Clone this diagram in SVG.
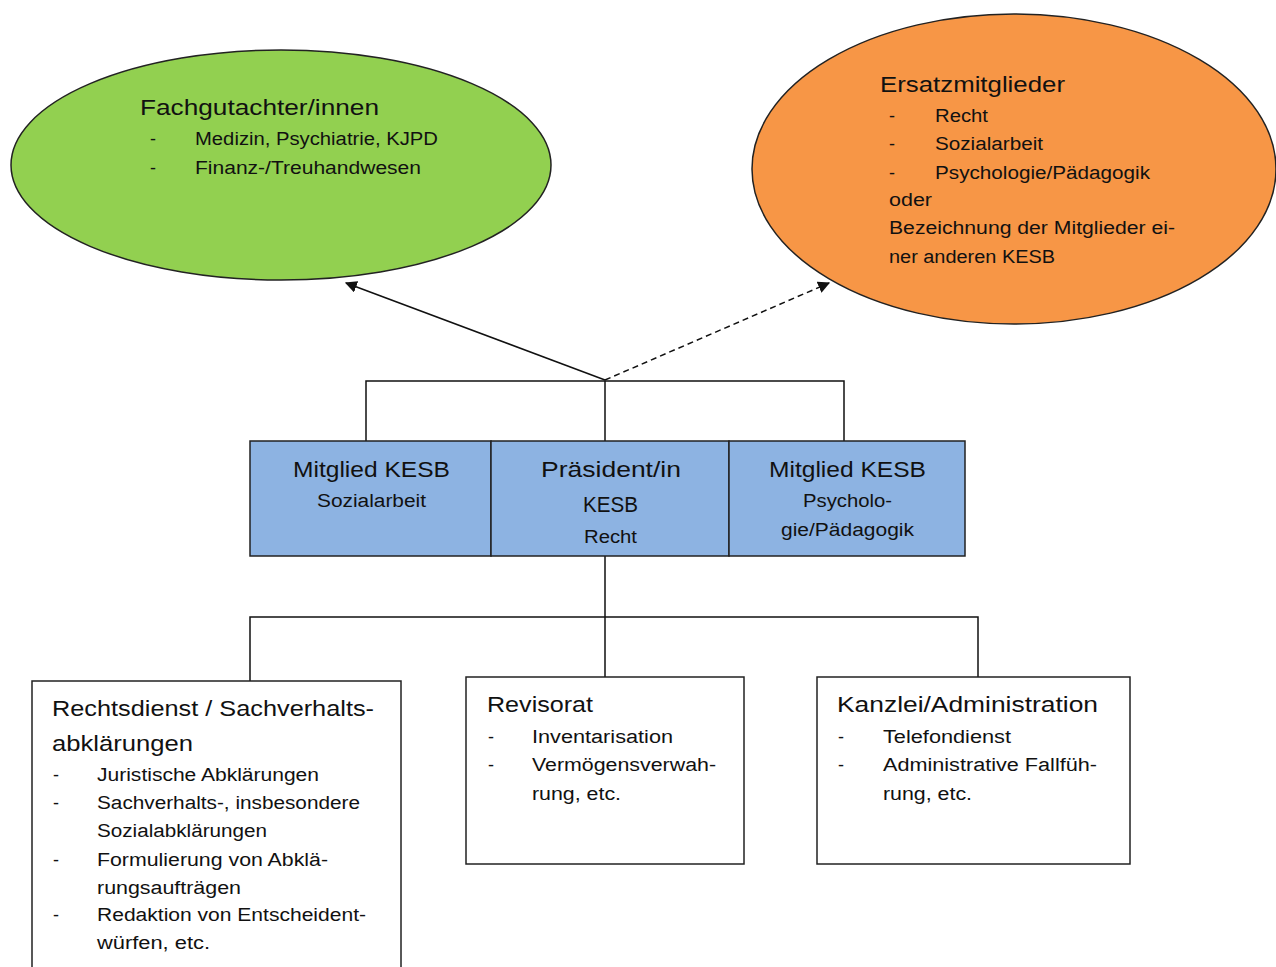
<svg xmlns="http://www.w3.org/2000/svg" width="1276" height="967" viewBox="0 0 1276 967">
<style>
text{font-family:"Liberation Sans",Arial,sans-serif;fill:#111}
.h{font-size:22px}
.b{font-size:18px}
.box{stroke:#222;stroke-width:1.5}
.ln{stroke:#111;stroke-width:1.5;fill:none}
</style>
<defs>
<marker id="ah" viewBox="0 0 10 10" refX="9" refY="5" markerWidth="12" markerHeight="12" markerUnits="userSpaceOnUse" orient="auto">
<path d="M0,0 L10,5 L0,10 z" fill="#111"/>
</marker>
</defs>
<rect width="1276" height="967" fill="#fff"/>

<g id="connectors">
<line class="ln" x1="605" y1="380" x2="346" y2="283" marker-end="url(#ah)"/>
<line class="ln" x1="605" y1="380" x2="829" y2="283" stroke-dasharray="6,4" marker-end="url(#ah)"/>
<path class="ln" d="M366,441 V381 H844 V441 M605,381 V441"/>
<path class="ln" d="M605,556 V677 M250,681 V617 H978 V677"/>
</g>

<g id="fachgutachter">
<ellipse cx="281" cy="165" rx="270" ry="115" fill="#92D050" class="box"/>
<text class="h" x="140" y="115" textLength="239" lengthAdjust="spacingAndGlyphs">Fachgutachter/innen</text>
<text class="b" x="150" y="145">-</text>
<text class="b" x="195" y="145" textLength="243" lengthAdjust="spacingAndGlyphs">Medizin, Psychiatrie, KJPD</text>
<text class="b" x="150" y="174">-</text>
<text class="b" x="195" y="174" textLength="226" lengthAdjust="spacingAndGlyphs">Finanz-/Treuhandwesen</text>
</g>

<g id="ersatzmitglieder">
<ellipse cx="1014" cy="169" rx="262" ry="155" fill="#F79646" class="box"/>
<text class="h" x="880" y="92" textLength="185" lengthAdjust="spacingAndGlyphs">Ersatzmitglieder</text>
<text class="b" x="889" y="122">-</text>
<text class="b" x="935" y="122" textLength="53" lengthAdjust="spacingAndGlyphs">Recht</text>
<text class="b" x="889" y="150">-</text>
<text class="b" x="935" y="150" textLength="108" lengthAdjust="spacingAndGlyphs">Sozialarbeit</text>
<text class="b" x="889" y="179">-</text>
<text class="b" x="935" y="179" textLength="215" lengthAdjust="spacingAndGlyphs">Psychologie/Pädagogik</text>
<text class="b" x="889" y="206" textLength="43" lengthAdjust="spacingAndGlyphs">oder</text>
<text class="b" x="889" y="234" textLength="286" lengthAdjust="spacingAndGlyphs">Bezeichnung der Mitglieder ei-</text>
<text class="b" x="889" y="263" textLength="166" lengthAdjust="spacingAndGlyphs">ner anderen KESB</text>
</g>

<g id="mitglied-sozialarbeit">
<rect x="250" y="441" width="241" height="115" fill="#8DB3E2" class="box"/>
<text class="h" x="293" y="477" textLength="157" lengthAdjust="spacingAndGlyphs">Mitglied KESB</text>
<text class="b" x="317" y="507" textLength="109" lengthAdjust="spacingAndGlyphs">Sozialarbeit</text>
</g>

<g id="praesident">
<rect x="491" y="441" width="238" height="115" fill="#8DB3E2" class="box"/>
<text class="h" x="541" y="477" textLength="140" lengthAdjust="spacingAndGlyphs">Präsident/in</text>
<text class="h" x="583" y="512" textLength="55" lengthAdjust="spacingAndGlyphs">KESB</text>
<text class="b" x="584" y="543" textLength="53" lengthAdjust="spacingAndGlyphs">Recht</text>
</g>

<g id="mitglied-psychologie">
<rect x="729" y="441" width="236" height="115" fill="#8DB3E2" class="box"/>
<text class="h" x="769" y="477" textLength="157" lengthAdjust="spacingAndGlyphs">Mitglied KESB</text>
<text class="b" x="803" y="507" textLength="89" lengthAdjust="spacingAndGlyphs">Psycholo-</text>
<text class="b" x="781" y="536" textLength="133" lengthAdjust="spacingAndGlyphs">gie/Pädagogik</text>
</g>

<g id="rechtsdienst">
<rect x="32" y="681" width="369" height="300" fill="#fff" class="box"/>
<text class="h" x="52" y="716" textLength="322" lengthAdjust="spacingAndGlyphs">Rechtsdienst / Sachverhalts-</text>
<text class="h" x="52" y="751" textLength="141" lengthAdjust="spacingAndGlyphs">abklärungen</text>
<text class="b" x="53" y="781">-</text>
<text class="b" x="97" y="781" textLength="222" lengthAdjust="spacingAndGlyphs">Juristische Abklärungen</text>
<text class="b" x="53" y="809">-</text>
<text class="b" x="97" y="809" textLength="263" lengthAdjust="spacingAndGlyphs">Sachverhalts-, insbesondere</text>
<text class="b" x="97" y="837" textLength="170" lengthAdjust="spacingAndGlyphs">Sozialabklärungen</text>
<text class="b" x="53" y="866">-</text>
<text class="b" x="97" y="866" textLength="231" lengthAdjust="spacingAndGlyphs">Formulierung von Abklä-</text>
<text class="b" x="97" y="894" textLength="144" lengthAdjust="spacingAndGlyphs">rungsaufträgen</text>
<text class="b" x="53" y="921">-</text>
<text class="b" x="97" y="921" textLength="269" lengthAdjust="spacingAndGlyphs">Redaktion von Entscheident-</text>
<text class="b" x="97" y="949" textLength="113" lengthAdjust="spacingAndGlyphs">würfen, etc.</text>
</g>

<g id="revisorat">
<rect x="466" y="677" width="278" height="187" fill="#fff" class="box"/>
<text class="h" x="487" y="712" textLength="106" lengthAdjust="spacingAndGlyphs">Revisorat</text>
<text class="b" x="488" y="743">-</text>
<text class="b" x="532" y="743" textLength="141" lengthAdjust="spacingAndGlyphs">Inventarisation</text>
<text class="b" x="488" y="771">-</text>
<text class="b" x="532" y="771" textLength="184" lengthAdjust="spacingAndGlyphs">Vermögensverwah-</text>
<text class="b" x="532" y="800" textLength="89" lengthAdjust="spacingAndGlyphs">rung, etc.</text>
</g>

<g id="kanzlei">
<rect x="817" y="677" width="313" height="187" fill="#fff" class="box"/>
<text class="h" x="837" y="712" textLength="261" lengthAdjust="spacingAndGlyphs">Kanzlei/Administration</text>
<text class="b" x="838" y="743">-</text>
<text class="b" x="883" y="743" textLength="128" lengthAdjust="spacingAndGlyphs">Telefondienst</text>
<text class="b" x="838" y="771">-</text>
<text class="b" x="883" y="771" textLength="214" lengthAdjust="spacingAndGlyphs">Administrative Fallfüh-</text>
<text class="b" x="883" y="800" textLength="89" lengthAdjust="spacingAndGlyphs">rung, etc.</text>
</g>
</svg>
